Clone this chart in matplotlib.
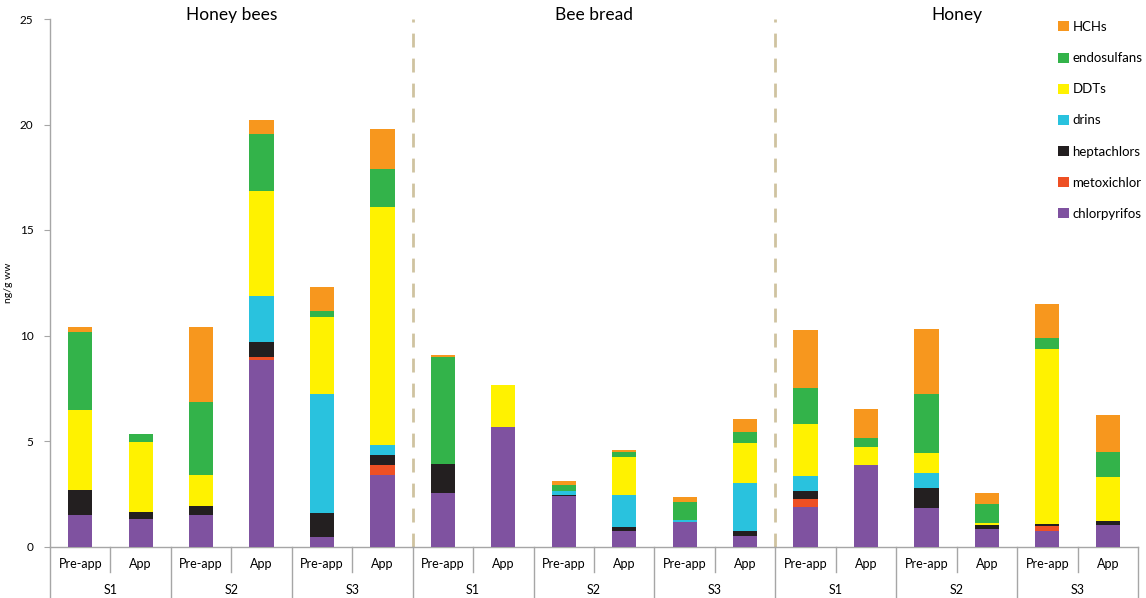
import matplotlib.pyplot as plt
from matplotlib.patches import Patch
from matplotlib.transforms import blended_transform_factory
import numpy as np

plt.rcParams['font.family'] = ['Lato', 'DejaVu Sans']

groups = ["Honey bees", "Bee bread", "Honey"]
sites = ["S1", "S2", "S3"]
periods = ["Pre-app", "App"]

# order within each group: S1 Pre-app, S1 App, S2 Pre-app, S2 App, S3 Pre-app, S3 App
chlorpyrifos = [1.48, 1.31, 1.48, 8.86, 0.43, 3.41,
                2.54, 5.68, 2.38, 0.75, 1.18, 0.48,
                1.87, 3.88, 1.84, 0.85, 0.75, 1.04]
metoxichlor = [0, 0, 0, 0.14, 0, 0.44,
               0, 0, 0, 0, 0, 0,
               0.37, 0, 0, 0, 0.24, 0]
heptachlors = [1.22, 0.32, 0.42, 0.67, 1.15, 0.51,
               1.36, 0, 0.05, 0.19, 0, 0.24,
               0.40, 0, 0.93, 0.17, 0.09, 0.17]
drins = [0, 0, 0, 2.18, 5.67, 0.44,
         0, 0, 0.20, 1.51, 0.08, 2.28,
         0.72, 0, 0.71, 0, 0, 0]
DDTs = [3.79, 3.31, 1.51, 5.01, 3.62, 11.30,
        0, 1.97, 0, 1.79, 0, 1.90,
        2.45, 0.85, 0.95, 0.09, 8.30, 2.10]
endosulfans = [3.67, 0.37, 3.45, 2.67, 0.27, 1.78,
               5.09, 0, 0.28, 0.22, 0.85, 0.51,
               1.71, 0.41, 2.81, 0.90, 0.50, 1.17]
HCHs = [0.22, 0, 3.52, 0.69, 1.17, 1.93,
        0.08, 0, 0.18, 0.10, 0.22, 0.63,
        2.73, 1.36, 3.08, 0.54, 1.63, 1.75]

series = [("chlorpyrifos", chlorpyrifos, "#7F52A0"),
          ("metoxichlor", metoxichlor, "#EE5024"),
          ("heptachlors", heptachlors, "#231F20"),
          ("drins", drins, "#29C2DE"),
          ("DDTs", DDTs, "#FFF200"),
          ("endosulfans", endosulfans, "#33B34A"),
          ("HCHs", HCHs, "#F7971E")]

W, H = 1146, 598
fig = plt.figure(figsize=(W / 100, H / 100), dpi=100)
x0, x1 = 50, 1138
y0, y1 = 546.5, 19
ax = fig.add_axes([x0 / W, 1 - y0 / H, (x1 - x0) / W, (y0 - y1) / H])

n = len(chlorpyrifos)
x = np.arange(n)
bottom = np.zeros(n)
for name, vals, col in series:
    v = np.array(vals, dtype=float)
    ax.bar(x, v, width=0.40, bottom=bottom, color=col, edgecolor='none', zorder=3)
    bottom += v

ax.set_xlim(-0.5, n - 0.5)
ax.set_ylim(0, 25)
ax.set_yticks([0, 5, 10, 15, 20, 25])
ax.tick_params(axis='y', direction='out', length=4, color='#a6a6a6', labelsize=8.5, pad=8)
ax.set_xticks([])
for s in ['top', 'right']:
    ax.spines[s].set_visible(False)
for s in ['left', 'bottom']:
    ax.spines[s].set_color('#a6a6a6')
    ax.spines[s].set_linewidth(1)
ax.set_ylabel("ng/g ww", fontsize=7.5, labelpad=5)

# dashed group separators
for xs in [5.5, 11.5]:
    ax.plot([xs, xs], [0, 25], ls=(0, (5, 4)), color='#CFC3A0', lw=2, zorder=2)

trans = blended_transform_factory(ax.transData, ax.transAxes)
# group titles
for gi, g in enumerate(groups):
    ax.text(gi * 6 + 2.5, 1.008, g, transform=trans, ha='center', va='center', fontsize=12.5)

# category labels
for i in range(n):
    ax.text(i, -0.034, periods[i % 2], transform=trans, ha='center', va='center', fontsize=9)
for j in range(n // 2):
    ax.text(2 * j + 0.5, -0.083, sites[j % 3], transform=trans, ha='center', va='center', fontsize=9)

# separators below axis
for j in range(n // 2):
    xs = 2 * j + 0.5
    ax.plot([xs, xs], [0, -0.048], transform=trans, color='#a6a6a6', lw=1, clip_on=False)
for j in range(n // 2 + 1):
    xs = 2 * j - 0.5
    ax.plot([xs, xs], [0, -0.11], transform=trans, color='#a6a6a6', lw=1, clip_on=False)

handles = [Patch(facecolor=col, edgecolor='none', label=name) for name, _, col in series][::-1]
fig.legend(handles=handles, loc='upper left', bbox_to_anchor=(1058 / W, 1 - 21 / H),
           frameon=False, fontsize=9.5, handlelength=0.8, handleheight=0.8,
           handletextpad=0.3, labelspacing=1.45, borderpad=0, borderaxespad=0)

fig.savefig("out.png", dpi=100)
